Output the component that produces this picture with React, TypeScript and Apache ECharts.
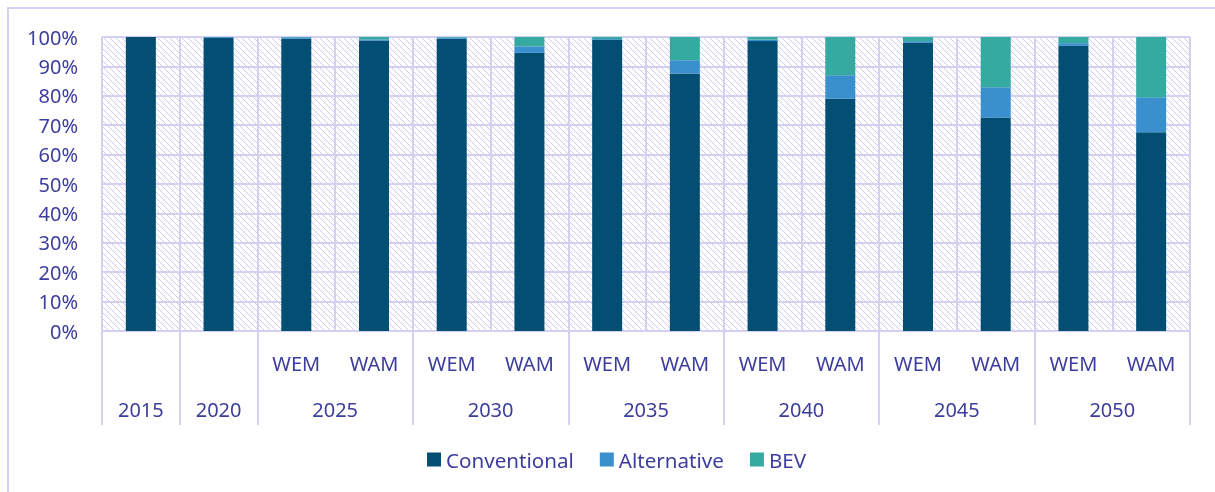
import React, { useEffect, useRef } from "react";
import * as echarts from "echarts";

const years = ["2015", "2020", "2025", "2030", "2035", "2040", "2045", "2050"];
const categoryYears = ["2015", "2020", "2025", "2025", "2030", "2030", "2035", "2035", "2040", "2040", "2045", "2045", "2050", "2050"];
const scenarioLabels = ["", "", "WEM", "WAM", "WEM", "WAM", "WEM", "WAM", "WEM", "WAM", "WEM", "WAM", "WEM", "WAM"];
const conventional = [100, 99.7, 99.4, 98.8, 99.4, 94.6, 99.0, 87.6, 98.6, 79.0, 98.1, 72.6, 97.0, 67.6];
const alternative = [0, 0.3, 0.5, 0.4, 0.4, 2.2, 0.3, 4.5, 0.5, 8.0, 0.5, 10.3, 0.9, 11.9];
const bev = [0, 0, 0.1, 0.8, 0.2, 3.2, 0.7, 7.9, 0.9, 13.0, 1.4, 17.1, 2.1, 20.5];
const yTicks = [0, 10, 20, 30, 40, 50, 60, 70, 80, 90, 100];

const TEXT = "#3d3d9e";
const GRIDC = "#d3d0f0";
const FONT = "Noto Sans";

export default function App() {
  const ref = useRef<HTMLDivElement>(null);
  useEffect(() => {
    if (!ref.current) return;
    const chart = echarts.init(ref.current, undefined, { renderer: "svg" });

    const cv = document.createElement("canvas");
    cv.width = 6;
    cv.height = 6;
    const ctx = cv.getContext("2d")!;
    ctx.fillStyle = "#ffffff";
    ctx.fillRect(0, 0, 6, 6);
    ctx.fillStyle = "#cdc9f0";
    for (let i = 0; i < 6; i++) ctx.fillRect(i, i, 1, 1);
    const hatch = cv.toDataURL();

    const centers: Record<string, string> = {};
    years.forEach((y) => {
      const first = categoryYears.indexOf(y);
      const last = categoryYears.lastIndexOf(y);
      centers[String((first + last + 1) / 2)] = y;
    });

    chart.setOption({
      animation: false,
      textStyle: { fontFamily: FONT },
      graphic: [
        {
          type: "rect",
          shape: { x: 8, y: 8, width: 1400, height: 800 },
          style: { fill: "none", stroke: GRIDC, lineWidth: 2 },
          silent: true,
          z: -10,
        },
      ],
      grid: {
        left: 102,
        right: 25,
        top: 37,
        bottom: 161,
        show: true,
        borderWidth: 0,
        backgroundColor: { image: hatch, repeat: "repeat" },
      },
      legend: {
        bottom: 17,
        left: 422,
        itemWidth: 14,
        itemHeight: 14,
        itemGap: 26,
        icon: "rect",
        textStyle: { color: TEXT, fontSize: 20.6, fontFamily: FONT },
        data: ["Conventional", "Alternative", "BEV"],
      },
      xAxis: [
        {
          type: "category",
          position: "bottom",
          data: scenarioLabels,
          axisLine: { show: true, lineStyle: { color: GRIDC, width: 2 } },
          axisTick: {
            show: true,
            length: 94,
            interval: (i: number) => i === 0 || categoryYears[i] !== categoryYears[i - 1],
            lineStyle: { color: GRIDC, width: 2 },
          },
          splitLine: { show: true, interval: 0, lineStyle: { color: GRIDC, width: 2 } },
          axisLabel: { interval: 0, color: TEXT, fontSize: 20, margin: 22, fontFamily: FONT },
        },
        {
          type: "value",
          position: "bottom",
          min: 0,
          max: categoryYears.length,
          interval: 0.5,
          axisLine: { show: false },
          axisTick: { show: false },
          splitLine: { show: false },
          axisLabel: {
            color: TEXT,
            fontSize: 20,
            margin: 68,
            fontFamily: FONT,
            formatter: (v: number) => centers[String(v)] || "",
          },
        },
      ],
      yAxis: {
        type: "value",
        min: 0,
        max: 100,
        interval: 10,
        axisLine: { show: false },
        axisTick: { show: false },
        splitLine: { show: true, lineStyle: { color: GRIDC, width: 2 } },
        axisLabel: {
          color: TEXT,
          fontSize: 20,
          margin: 24,
          fontFamily: FONT,
          formatter: (v: number) => (yTicks.includes(v) ? v + "%" : ""),
        },
      },
      series: [
        { name: "Conventional", type: "bar", stack: "s", barWidth: 30, data: conventional, itemStyle: { color: "#034f74" }, xAxisIndex: 0 },
        { name: "Alternative", type: "bar", stack: "s", barWidth: 30, data: alternative, itemStyle: { color: "#3a8fcd" }, xAxisIndex: 0 },
        { name: "BEV", type: "bar", stack: "s", barWidth: 30, data: bev, itemStyle: { color: "#35aaa0" }, xAxisIndex: 0 },
      ],
    });
    return () => chart.dispose();
  }, []);
  return <div ref={ref} style={{ position: "fixed", left: 0, top: 0, width: 1215, height: 492 }} />;
}
